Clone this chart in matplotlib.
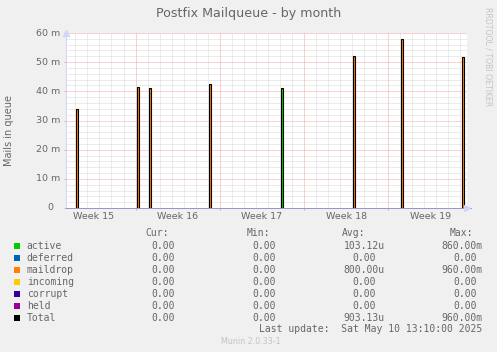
import matplotlib
matplotlib.use("Agg")
import matplotlib.pyplot as plt
from matplotlib.patches import Rectangle
from matplotlib.transforms import offset_copy
import numpy as np

# ---------------- data ----------------
# spike times in days from the left edge of the graph
spike_days = [0.93, 5.96, 6.96, 11.93, 17.93, 23.93, 27.93, 32.96]
active_vals = [0.0, 0.0, 0.0, 0.0, 0.0412, 0.0, 0.0, 0.0]
maildrop_vals = [0.0340, 0.0416, 0.0412, 0.0425, 0.0, 0.0522, 0.0578, 0.0516]

week_labels = ["Week 15", "Week 16", "Week 17", "Week 18", "Week 19"]
x_span_days = 33.33
first_week_start = -1.22   # day offset of the Week 15 start
first_midnight = 0.78

y_max = 0.060
y_major = [0.0, 0.010, 0.020, 0.030, 0.040, 0.050, 0.060]
y_minor_step = 0.002

series_names = ["active", "deferred", "maildrop", "incoming", "corrupt", "held", "Total"]
series_colors = ["#00CC00", "#0066B3", "#FF8000", "#FFCC00", "#330099", "#990099", "#000000"]
cur_vals = [0.0, 0.0, 0.0, 0.0, 0.0, 0.0, 0.0]
min_vals = [0.0, 0.0, 0.0, 0.0, 0.0, 0.0, 0.0]
avg_vals = [103.12e-6, 0.0, 800.00e-6, 0.0, 0.0, 0.0, 903.13e-6]
max_vals = [860.00e-3, 0.0, 960.00e-3, 0.0, 0.0, 0.0, 960.00e-3]

title = "Postfix Mailqueue - by month"
ylabel = "Mails in queue"
last_update = "Last update:  Sat May 10 13:10:00 2025"
footer = "Munin 2.0.33-1"
watermark = "RRDTOOL / TOBI OETIKER"

# ---------------- style ----------------
W, H = 497, 352
FONT = "#666666"
BG = "#F0F0F0"
AXIS = "#CFD6F8"
MINOR = "#D8D8D8"
MAJOR = "#F2A4A4"


def fx(x):
    return x / W


def fy(y):
    return 1 - y / H


fig = plt.figure(figsize=(W / 100, H / 100), dpi=100, facecolor=BG)
L, R, T, B = 66, 467, 33, 208
ax = fig.add_axes([fx(L), fy(B), (R - L) / W, (B - T) / H])
ax.set_facecolor("white")
ax.set_xlim(0, x_span_days)
ax.set_ylim(0, y_max)

px = 1 / 100 * 72  # one pixel in points
DASH = (1, 1)

# grid
days = np.arange(first_midnight, x_span_days, 1.0)
week_bounds = np.arange(first_week_start + 7, x_span_days, 7.0)
for d in days:
    if np.any(np.isclose(week_bounds, d, atol=0.05)):
        continue
    ax.axvline(d, color=MINOR, lw=px, dashes=DASH, zorder=1)
for yv in np.arange(0, y_max + 1e-9, y_minor_step):
    if np.any(np.isclose(y_major, yv, atol=1e-6)):
        continue
    ax.axhline(yv, color=MINOR, lw=px, dashes=DASH, zorder=1)
for d in week_bounds:
    ax.axvline(d, color=MAJOR, lw=px, dashes=DASH, zorder=1.5)
for yv in y_major[1:]:
    ax.axhline(yv, color=MAJOR, lw=px, dashes=DASH, zorder=1.5)

# data
bw = 0.17
ax.bar(spike_days, active_vals, width=bw, color=series_colors[0], lw=0, zorder=3)
ax.bar(spike_days, maildrop_vals, width=bw, bottom=active_vals,
       color=series_colors[2], lw=0, zorder=3)
total_vals = [a + m for a, m in zip(active_vals, maildrop_vals)]
ax.bar(spike_days, total_vals, width=bw, fill=False, edgecolor="black",
       lw=1.1 * px, zorder=4)

# spines
for s in ["top", "right"]:
    ax.spines[s].set_visible(False)
ax.spines["left"].set_color(AXIS)
ax.spines["left"].set_linewidth(px)
ax.spines["bottom"].set_color("#9C96C6")
ax.spines["bottom"].set_linewidth(px)
ax.spines["left"].set_zorder(5)
ax.spines["bottom"].set_zorder(5)

# arrows
ax.plot([0], [1.0], transform=ax.transAxes, marker="^", ms=5, color=AXIS,
        clip_on=False, zorder=6)
ax.plot([0, 0], [1.0, 1.02], transform=ax.transAxes, color=AXIS, lw=px, clip_on=False)
ax.plot([1.0], [0], transform=ax.transAxes, marker=">", ms=5, color=AXIS,
        clip_on=False, zorder=6)
ax.plot([1.0, 1.01], [0, 0], transform=ax.transAxes, color="#9C96C6", lw=px, clip_on=False)

# ticks
ax.set_xticks(week_bounds)
ax.set_xticklabels([])
ax.tick_params(axis="x", which="major", length=2 * px, width=px, color=MAJOR,
               direction="out")
mid_weeks = [first_week_start + 3.5 + 7 * i for i in range(len(week_labels))]
ax.set_xticks(mid_weeks, minor=True)
ax.set_xticklabels(week_labels, minor=True)
ax.tick_params(axis="x", which="minor", length=0, pad=3, labelsize=6.8,
               labelcolor=FONT)
ax.set_yticks(y_major)
ax.set_yticklabels([])
ax.tick_params(axis="y", which="major", length=2 * px, width=px, color=MAJOR,
               direction="out")

ytr = ax.get_yaxis_transform()
for yv in y_major:
    if yv == 0:
        lab, off = "0", -13
    else:
        lab, off = "%d m" % round(yv * 1000), -6
    ax.text(0, yv, lab, transform=offset_copy(ytr, fig=fig, x=off, y=0, units="dots"),
            ha="right", va="center", fontsize=6.8, color=FONT)

# texts
fig.text(fx(248.5), fy(14), title, ha="center", va="center", fontsize=9.1, color=FONT)
fig.text(fx(9), fy(130), ylabel, rotation=90, ha="center", va="center",
         fontsize=7, color=FONT)
fig.text(fx(488), fy(56.5), watermark, rotation=270, ha="center", va="center",
         fontsize=5.6, color="#C4C4C4")
fig.text(fx(251), fy(341), footer, ha="center", va="center", fontsize=5.8,
         color="#C4C4C4")

MONO = "DejaVu Sans Mono"
LFS = 7.0


def fmt(v):
    if v == 0:
        return "0.00", False
    if v < 1e-3:
        return "%.2fu" % (v * 1e6), True
    if v < 1:
        return "%.2fm" % (v * 1e3), True
    return "%.2f" % v, False


hy = 233
fig.text(fx(145.7), fy(hy), "Cur:", ha="left", va="center", fontsize=LFS,
         family=MONO, color=FONT)
fig.text(fx(246.7), fy(hy), "Min:", ha="left", va="center", fontsize=LFS,
         family=MONO, color=FONT)
fig.text(fx(341.7), fy(hy), "Avg:", ha="left", va="center", fontsize=LFS,
         family=MONO, color=FONT)
fig.text(fx(450), fy(hy), "Max:", ha="left", va="center", fontsize=LFS,
         family=MONO, color=FONT)

cols = [(cur_vals, 175.0, 175.0), (min_vals, 276.0, 276.0),
        (avg_vals, 384.7, 376.0), (max_vals, 482.3, 477.3)]
for i, name in enumerate(series_names):
    yy = 245.7 + 12 * i
    fig.add_artist(Rectangle((fx(14), fy(yy + 3)), 6 / W, 6 / H,
                             transform=fig.transFigure, color=series_colors[i], lw=0))
    fig.text(fx(26.7), fy(yy), name, ha="left", va="center", fontsize=LFS,
             family=MONO, color=FONT)
    for vals, xu, xn in cols:
        s, unit = fmt(vals[i])
        fig.text(fx(xu if unit else xn), fy(yy), s, ha="right", va="center",
                 fontsize=LFS, family=MONO, color=FONT)

fig.text(fx(482.3), fy(329), last_update, ha="right", va="center", fontsize=LFS,
         family=MONO, color=FONT)

fig.savefig("out.png", dpi=100, facecolor=BG)
